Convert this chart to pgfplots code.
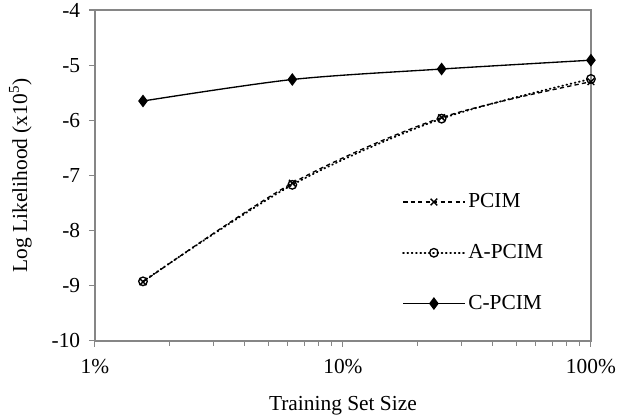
\documentclass[border=0pt]{standalone}
\usepackage{pgfplots}
\pgfplotsset{compat=1.18}
\usepackage{fontspec}
\setmainfont{Liberation Serif}
\definecolor{axgray}{HTML}{868686}

\begin{document}
\fontsize{16}{18}\selectfont
\begin{tikzpicture}
\begin{axis}[
    scale only axis,
    width=371pt,
    height=247.5pt,
    xmode=log,
    xmin=1, xmax=100,
    ymin=-10, ymax=-4,
    xtick={1,10,100},
    xticklabels={1\%,10\%,100\%},
    ytick={-10,-9,-8,-7,-6,-5,-4},
    yticklabels={-10,-9,-8,-7,-6,-5,-4},
    xtick pos=lower, ytick pos=left,
    tick align=outside,
    major tick length=4.5pt,
    minor tick length=3.5pt,
    axis line style={axgray, line width=1pt},
    every tick/.style={axgray, line width=0.8pt},
    xticklabel style={yshift=-4pt},
    yticklabel style={xshift=-1pt},
    xlabel={Training Set Size},
    ylabel={Log Likelihood (x10\textsuperscript{5})},
    xlabel style={yshift=-6pt},
    ylabel style={yshift=4pt},
    legend cell align=left,
    legend style={draw=none, fill=none, at={(rel axis cs:0.619,0.455)},
        anchor=north west, row sep=21pt, inner sep=0pt},
    legend image code/.code={
        \draw[mark repeat=2, mark phase=2, #1]
        plot coordinates {(0pt,0pt) (23pt,0pt) (46pt,0pt)};
    },
    clip=false
]

% PCIM
\addplot[black, line width=1pt, smooth, dash pattern=on 3.2pt off 2.4pt,
    mark=x, mark size=3.5pt, mark options={solid}]
coordinates {
(1.5625,-8.93)
(6.25,-7.14)
(25,-5.95)
(100,-5.30)
};
\addlegendentry{PCIM}

% A-PCIM
\addplot[black, line width=1.4pt, smooth, line cap=round, dash pattern=on 0.6pt off 2.6pt,
    mark=o, mark size=3.2pt, mark options={solid, line width=1pt}]
coordinates {
(1.5625,-8.92)
(6.25,-7.17)
(25,-5.97)
(100,-5.25)
};
\addlegendentry{A-PCIM}

% C-PCIM
\addplot[black, line width=1pt, smooth,
    mark=diamond*, mark size=4pt]
coordinates {
(1.5625,-5.65)
(6.25,-5.26)
(25,-5.07)
(100,-4.91)
};
\addlegendentry{C-PCIM}

\end{axis}
\pgfresetboundingbox
\path[use as bounding box] ([shift={(-71pt,-55.5pt)}]current axis.south west)
    rectangle ([shift={(21pt,7.5pt)}]current axis.north east);
\end{tikzpicture}
\end{document}
